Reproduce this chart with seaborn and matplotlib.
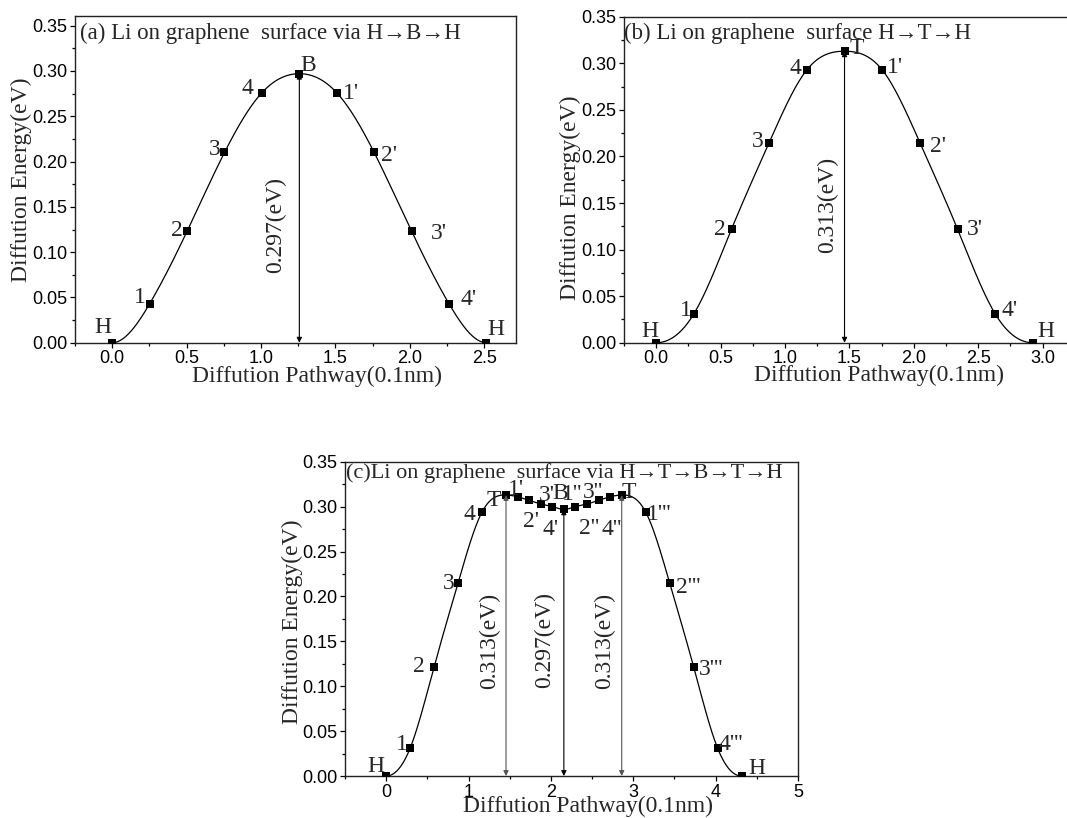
import numpy as np
import pandas as pd
import matplotlib
matplotlib.use("Agg")
import matplotlib.pyplot as plt
from matplotlib.ticker import MultipleLocator, FormatStrFormatter
import seaborn as sns

## data --------------------------------------------------------------------
# (a) H -> B -> H
xa = [0.0, 0.2515, 0.503, 0.7545, 1.006, 1.2575, 1.509, 1.7605, 2.012, 2.2635, 2.515]
ya = [0.0, 0.043, 0.123, 0.210, 0.276, 0.297, 0.276, 0.210, 0.123, 0.043, 0.0]
lab_a = ['H', '1', '2', '3', '4', 'B', "1'", "2'", "3'", "4'", 'H']

# (b) H -> T -> H
xb = [0.0, 0.2925, 0.585, 0.8775, 1.17, 1.4625, 1.755, 2.0475, 2.34, 2.6325, 2.925]
yb = [0.0, 0.031, 0.122, 0.215, 0.293, 0.313, 0.293, 0.215, 0.122, 0.031, 0.0]
lab_b = ['H', '1', '2', '3', '4', 'T', "1'", "2'", "3'", "4'", 'H']

# (c) H -> T -> B -> T -> H
xc = [0.0, 0.291, 0.582, 0.873, 1.164, 1.455,
      1.5955, 1.736, 1.8765, 2.017, 2.1575, 2.298, 2.4385, 2.579, 2.7195, 2.86,
      3.151, 3.442, 3.733, 4.024, 4.315]
yc = [0.0, 0.031, 0.1216, 0.215, 0.294, 0.313,
      0.311, 0.307, 0.303, 0.300, 0.297, 0.300, 0.303, 0.307, 0.311, 0.313,
      0.294, 0.215, 0.1216, 0.031, 0.0]
lab_c = ['H', '1', '2', '3', '4', 'T', "1'", "2'", "3'", "4'", 'B',
         "1''", "2''", "3''", "4''", 'T', "1'''", "2'''", "3'''", "4'''", 'H']

titles = ["(a) Li on graphene  surface via H\u2192B\u2192H",
          "(b) Li on graphene  surface H\u2192T\u2192H",
          "(c)Li on graphene  surface via H\u2192T\u2192B\u2192T\u2192H"]
xlabel = "Diffution Pathway(0.1nm)"
ylabel = "Diffution Energy(eV)"

## label offsets (points) -----------------------------------------------------
off_a = [(-6.8, 10.8), (-6.7, 4.8), (-7.2, 0.5), (-6.9, 2.2), (-10.1, 3.1), (6.7, 6),
         (10.6, -0.9), (10.9, -2.2), (19.7, -1.9), (13.8, 2.9), (6.7, 9.6)]
off_b = [(-4.4, 7.9), (-5.7, 2.7), (-8.1, -0.5), (-8.1, 0.7), (-8.1, 0.7), (9.1, 1.7),
         (9.1, 1.7), (12.8, -2.9), (12.8, -0.5), (10.3, 2.2), (9.6, 7.9)]
off_c = [(-7.5, 6.7), (-5.6, 2.9), (-10.7, 0), (-6.7, -0.7), (-8.8, -1.9), (-8.8, -4.1),
         (-1.2, 5.5), (1.2, -14.9), (4.3, 6), (-1.2, -16.1), (-2.4, 11.3),
         (-2.4, 9.1), (1.2, -18), (-4.1, 5.5), (1.2, -23.3), (4.8, 1.9),
         (10.1, -1.9), (13.6, -3.6), (12.3, -2.2), (9.6, 2.9), (10.7, 5.5)]


## functions ----------------------------------------------------------------
def smooth(x, y, n=400):
    # clamped cubic spline (zero slope at both ends) drawn through the points
    x = np.asarray(x, float)
    y = np.asarray(y, float)
    m = len(x)
    h = np.diff(x)
    A = np.zeros((m, m))
    r = np.zeros(m)
    A[0, 0], A[0, 1] = 2 * h[0], h[0]
    r[0] = 6 * ((y[1] - y[0]) / h[0])
    for i in range(1, m - 1):
        A[i, i - 1] = h[i - 1]
        A[i, i] = 2 * (h[i - 1] + h[i])
        A[i, i + 1] = h[i]
        r[i] = 6 * ((y[i + 1] - y[i]) / h[i] - (y[i] - y[i - 1]) / h[i - 1])
    A[-1, -2], A[-1, -1] = h[-1], 2 * h[-1]
    r[-1] = 6 * (0 - (y[-1] - y[-2]) / h[-1])
    M = np.linalg.solve(A, r)
    t = np.linspace(x[0], x[-1], n)
    k = np.clip(np.searchsorted(x, t) - 1, 0, m - 2)
    hk = h[k]
    a = x[k + 1] - t
    b = t - x[k]
    s = (M[k] * a ** 3 + M[k + 1] * b ** 3) / (6 * hk) \
        + (y[k] / hk - M[k] * hk / 6) * a + (y[k + 1] / hk - M[k + 1] * hk / 6) * b
    return pd.DataFrame({"x": t, "y": s})


def draw_panel(ax, x, y, labels, offs, title, peaks, txt_dx, txt_y, xlim, ylim,
               xmaj, xfmt, lab_pos, arrow_cols, fs_title=16.5):
    curve = smooth(x, y)
    sns.lineplot(data=curve, x="x", y="y", sort=False, estimator=None,
                 color="black", lw=0.9, ax=ax)
    sns.scatterplot(x=x, y=y, marker="s", s=26, color="black", linewidth=0,
                    ax=ax, zorder=3)
    for lab, xi, yi, (dx, dy) in zip(labels, x, y, offs):
        ax.annotate(lab, (xi, yi), xytext=(dx, dy), textcoords="offset points",
                    ha="center", va="center", fontsize=17, family="Liberation Serif")
    for (i, dxp, col) in zip(peaks, txt_dx, arrow_cols):
        ax.annotate("", xy=(x[i], y[i]), xytext=(x[i], 0),
                    arrowprops=dict(arrowstyle="<|-|>", lw=0.8, color=col,
                                    mutation_scale=7.5, shrinkA=0, shrinkB=0))
        ax.annotate("%.3f(eV)" % y[i], (x[i], txt_y), xytext=(dxp, 0),
                    textcoords="offset points", rotation=90, ha="center", va="center",
                    fontsize=17, family="Liberation Serif")
    ax.text(title[1], title[2], title[0], transform=ax.transAxes, ha="left",
            va="center", fontsize=fs_title, family="Liberation Serif")
    ax.set_xlim(*xlim)
    ax.set_ylim(*ylim)
    ax.xaxis.set_major_locator(MultipleLocator(xmaj))
    ax.xaxis.set_minor_locator(MultipleLocator(xmaj / 2))
    ax.xaxis.set_major_formatter(FormatStrFormatter(xfmt))
    ax.set_yticks(np.arange(0, 0.351, 0.05))
    ax.yaxis.set_minor_locator(MultipleLocator(0.025))
    ax.yaxis.set_major_formatter(FormatStrFormatter("%.2f"))
    ax.tick_params(which="both", direction="out", top=False, right=False,
                   labelsize=13, width=0.9, colors="black")
    ax.tick_params(which="major", length=3.5, pad=2)
    ax.tick_params(which="minor", length=2.5)
    ax.set_xlabel(xlabel, fontsize=17, family="Liberation Serif")
    ax.set_ylabel(ylabel, fontsize=17, family="Liberation Serif")
    ax.xaxis.set_label_coords(lab_pos[0], lab_pos[1])
    ax.yaxis.set_label_coords(lab_pos[2], lab_pos[3])
    ax.xaxis.label.set_va("center")
    ax.yaxis.label.set_va("center")
    for sp in ax.spines.values():
        sp.set_color("#222222")
        sp.set_linewidth(1.0)


## main ---------------------------------------------------------------------
sns.set_theme(style="ticks")
plt.rcParams["font.family"] = ["Liberation Sans", "DejaVu Sans"]

fig = plt.figure(figsize=(10.67, 8.18), dpi=100)
ax_a = fig.add_axes([0.0703, 0.581, 0.4135, 0.3998])
ax_b = fig.add_axes([0.5848, 0.581, 0.4152, 0.3985])
ax_c = fig.add_axes([0.3233, 0.0513, 0.4246, 0.3842])

draw_panel(ax_a, xa, ya, lab_a, off_a, (titles[0], 0.012, 0.946), [5], [-17.2], 0.130,
           (-0.25, 2.715), (0, 0.361), 0.5, "%.1f", (0.548, -0.104, -0.122, 0.4975),
           ["black"])
draw_panel(ax_b, xb, yb, lab_b, off_b, (titles[1], 0.0, 0.949), [5], [-11.9], 0.148,
           (-0.25, 3.19), (0, 0.35), 0.5, "%.1f", (0.576, -0.099, -0.122, 0.446),
           ["black"])
ax_b.spines["right"].set_visible(False)
draw_panel(ax_c, xc, yc, lab_c, off_c, (titles[2], 0.003, 0.963), [5, 10, 15],
           [-11.5, -14.1, -12.0], 0.151, (-0.5, 5), (0, 0.35), 1, "%d",
           (0.537, -0.098, -0.115, 0.491), ["#555555", "black", "#555555"],
           fs_title=16)

fig.savefig("out.png", dpi=100)
